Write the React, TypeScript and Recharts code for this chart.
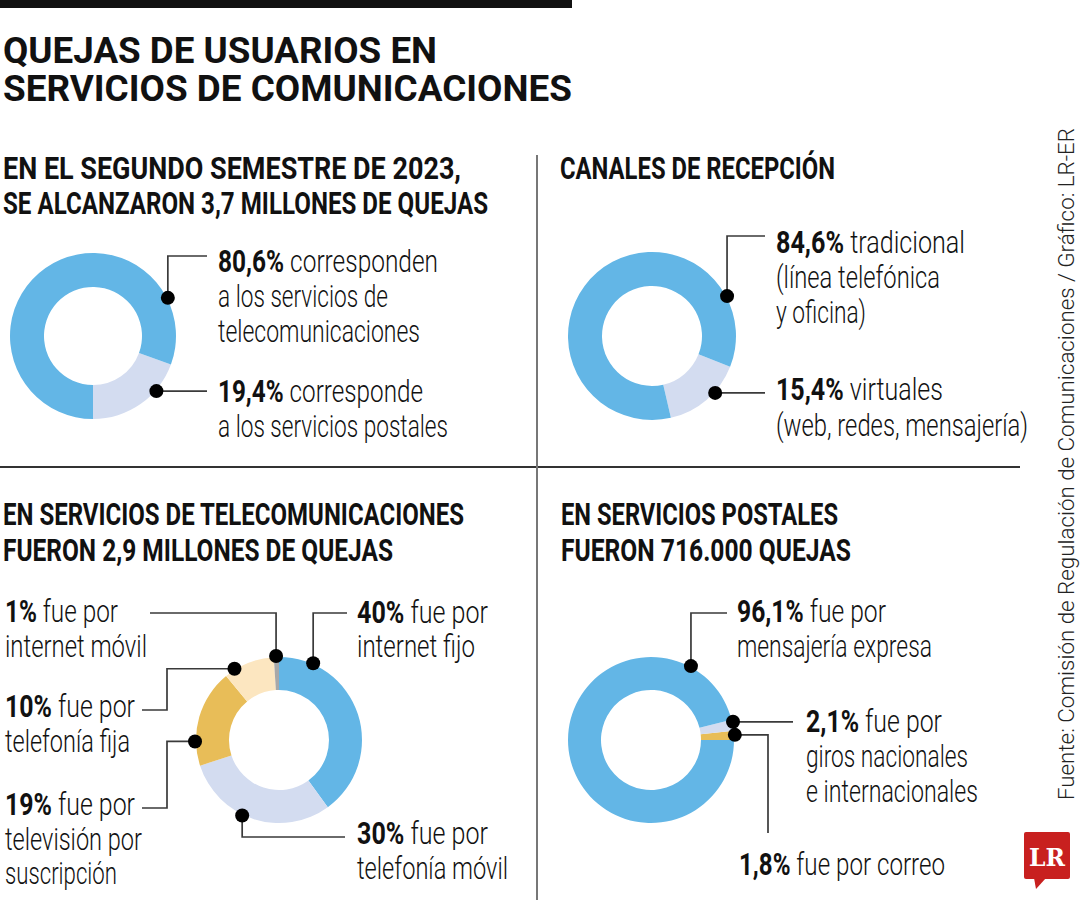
import { PieChart, Pie, Cell } from "recharts";

// ---- data ----
const totalNames = ["Servicios postales", "Telecomunicaciones"];
const totalValues = [19.4, 80.6];

const channelNames = ["Virtuales", "Tradicional"];
const channelValues = [15.4, 84.6];

const telecomNames = ["Internet fijo", "Telefonía móvil", "Televisión por suscripción", "Telefonía fija", "Internet móvil"];
const telecomValues = [40, 30, 19, 10, 1];

const postalNames = ["Correo", "Giros nacionales e internacionales", "Mensajería expresa"];
const postalValues = [1.8, 2.1, 96.1];

const BLUE = "#63b6e6";
const LAVENDER = "#d3dcf0";
const YELLOW = "#e8bd58";
const PALE = "#fce6c0";
const GREY = "#a8a8a8";
const LINE = "#3a3a3a";

const totalColors = [LAVENDER, BLUE];
const channelColors = [LAVENDER, BLUE];
const telecomColors = [BLUE, LAVENDER, YELLOW, PALE, GREY];
const postalColors = [YELLOW, LAVENDER, BLUE];

const toRows = (names: string[], values: number[]) =>
  names.map((name, i) => ({ name, value: values[i] }));

// ---- callouts: dot angle on the ring + elbow path (v = go to y, h = go to x) ----
type Note = { angle: number; path: [string, number][] };

const totalNotes: Note[] = [
  { angle: -41, path: [["h", 207]] },
  { angle: 27, path: [["v", 256], ["h", 207]] },
];
const channelNotes: Note[] = [
  { angle: -42, path: [["h", 765]] },
  { angle: 28, path: [["v", 236], ["h", 765]] },
];
const telecomNotes: Note[] = [
  { angle: 66, path: [["v", 613], ["h", 347]] },
  { angle: -116, path: [["v", 837], ["h", 345]] },
  { angle: 181, path: [["h", 167], ["v", 808], ["h", 142]] },
  { angle: 122, path: [["h", 167], ["v", 710], ["h", 142]] },
  { angle: 92, path: [["v", 613], ["h", 150]] },
];
const postalNotes: Note[] = [
  { angle: 3.5, path: [["h", 768], ["v", 833]] },
  { angle: 12.5, path: [["h", 793]] },
  { angle: 61.6, path: [["v", 613], ["h", 727]] },
];

const makeLabel = (notes: Note[]) => (props: any) => {
  const { cx, cy, outerRadius, index } = props;
  const note = notes[index];
  if (!note) return null;
  const rad = (note.angle * Math.PI) / 180;
  const r = outerRadius + 1;
  const x0 = cx + r * Math.cos(rad);
  const y0 = cy - r * Math.sin(rad);
  const pts: number[][] = [[x0, y0]];
  let x = x0;
  let y = y0;
  note.path.forEach(([dir, v]) => {
    if (dir === "v") y = v;
    else x = v;
    pts.push([x, y]);
  });
  return (
    <g key={`note-${index}`}>
      <polyline
        points={pts.map((p) => p.join(",")).join(" ")}
        fill="none"
        stroke={LINE}
        strokeWidth={1.7}
      />
      <circle cx={x0} cy={y0} r={7} fill="#000" />
    </g>
  );
};

// ---- text lines: [x, baseline, width, bold part, rest] ----
type Line = [number, number, number, string, string];

const bodyLines: Line[] = [
  [218, 272, 220, "80,6%", " corresponden"],
  [218, 307, 170, "", "a los servicios de"],
  [218, 342, 202, "", "telecomunicaciones"],
  [218, 402, 205, "19,4%", " corresponde"],
  [218, 437, 230, "", "a los servicios postales"],

  [776, 253, 189, "84,6%", " tradicional"],
  [776, 288, 164, "", "(línea telefónica"],
  [776, 323, 90, "", "y oficina)"],
  [776, 400, 167, "15,4%", " virtuales"],
  [776, 436, 252, "", "(web, redes, mensajería)"],

  [5, 622, 113, "1%", " fue por"],
  [5, 657, 142, "", "internet móvil"],
  [5, 717, 130, "10%", " fue por"],
  [5, 752, 125, "", "telefonía fija"],
  [5, 815, 130, "19%", " fue por"],
  [5, 850, 137, "", "televisión por"],
  [5, 884, 112, "", "suscripción"],

  [357, 623, 131, "40%", " fue por"],
  [357, 657, 118, "", "internet fijo"],
  [357, 844, 131, "30%", " fue por"],
  [357, 879, 151, "", "telefonía móvil"],

  [737, 622, 149, "96,1%", " fue por"],
  [737, 657, 195, "", "mensajería expresa"],
  [806, 732, 136, "2,1%", " fue por"],
  [806, 767, 162, "", "giros nacionales"],
  [806, 802, 172, "", "e internacionales"],
  [739, 875, 206, "1,8%", " fue por correo"],
];

const headLines: Line[] = [
  [3, 179, 458, "EN EL SEGUNDO SEMESTRE DE 2023,", ""],
  [3, 214, 485, "SE ALCANZARON 3,7 MILLONES DE QUEJAS", ""],
  [560, 179, 275, "CANALES DE RECEPCIÓN", ""],
  [3, 525, 461, "EN SERVICIOS DE TELECOMUNICACIONES", ""],
  [3, 561, 390, "FUERON 2,9 MILLONES DE QUEJAS", ""],
  [561, 525, 277, "EN SERVICIOS POSTALES", ""],
  [561, 561, 290, "FUERON 716.000 QUEJAS", ""],
];

const titleLines: Line[] = [
  [3, 63, 434, "QUEJAS DE USUARIOS EN", ""],
  [3, 101, 569, "SERVICIOS DE COMUNICACIONES", ""],
];

const SOURCE = "Fuente: Comisión de Regulación de Comunicaciones / Gráfico: LR-ER";

const FONT = "Roboto, 'Liberation Sans', sans-serif";

const TextLine = ({ line, size, weight }: { line: Line; size: number; weight: number }) => {
  const [x, y, w, bold, rest] = line;
  return (
    <text
      x={x}
      y={y}
      textLength={w}
      lengthAdjust="spacingAndGlyphs"
      fontSize={size}
      fontWeight={weight}
      fill="#111"
    >
      {bold && <tspan fontWeight={700}>{bold}</tspan>}
      {rest}
    </text>
  );
};

const ring = { innerRadius: 49, outerRadius: 83, stroke: "none", isAnimationActive: false, labelLine: false };

export default function App() {
  return (
    <div
      style={{
        position: "absolute",
        left: 0,
        top: 0,
        width: 1080,
        height: 900,
        background: "#fff",
        fontFamily: FONT,
      }}
    >
      <PieChart width={1080} height={900} margin={{ top: 0, right: 0, bottom: 0, left: 0 }}>
        <Pie
          {...ring}
          data={toRows(totalNames, totalValues)}
          dataKey="value"
          nameKey="name"
          cx={93}
          cy={336}
          startAngle={-90}
          endAngle={270}
          label={makeLabel(totalNotes)}
        >
          {totalColors.map((c, i) => (
            <Cell key={i} fill={c} />
          ))}
        </Pie>
        <Pie
          {...ring}
          innerRadius={50}
          outerRadius={84}
          data={toRows(channelNames, channelValues)}
          dataKey="value"
          nameKey="name"
          cx={652}
          cy={336}
          startAngle={-77}
          endAngle={283}
          label={makeLabel(channelNotes)}
        >
          {channelColors.map((c, i) => (
            <Cell key={i} fill={c} />
          ))}
        </Pie>
        <Pie
          {...ring}
          innerRadius={50}
          data={toRows(telecomNames, telecomValues)}
          dataKey="value"
          nameKey="name"
          cx={279}
          cy={740}
          startAngle={90}
          endAngle={-270}
          label={makeLabel(telecomNotes)}
        >
          {telecomColors.map((c, i) => (
            <Cell key={i} fill={c} />
          ))}
        </Pie>
        <Pie
          {...ring}
          innerRadius={50}
          data={toRows(postalNames, postalValues)}
          dataKey="value"
          nameKey="name"
          cx={651}
          cy={740}
          startAngle={0}
          endAngle={360}
          label={makeLabel(postalNotes)}
        >
          {postalColors.map((c, i) => (
            <Cell key={i} fill={c} />
          ))}
        </Pie>
      </PieChart>

      <svg
        width={1080}
        height={900}
        style={{ position: "absolute", left: 0, top: 0, pointerEvents: "none" }}
        fontFamily={FONT}
      >
        <rect x={0} y={0} width={572} height={8} fill="#111" />
        <line x1={0} y1={467} x2={1020} y2={467} stroke="#333" strokeWidth={2} />
        <line x1={537} y1={155} x2={537} y2={900} stroke="#777" strokeWidth={2} />

        {titleLines.map((l, i) => (
          <TextLine key={`t${i}`} line={l} size={37} weight={700} />
        ))}
        {headLines.map((l, i) => (
          <TextLine key={`h${i}`} line={l} size={32} weight={700} />
        ))}
        {bodyLines.map((l, i) => (
          <TextLine key={`b${i}`} line={l} size={31} weight={300} />
        ))}

        <text
          transform="translate(1074 800) rotate(-90)"
          textLength={672}
          lengthAdjust="spacingAndGlyphs"
          fontSize={22}
          fontWeight={300}
          fill="#222"
        >
          {SOURCE}
        </text>

        <g>
          <rect x={1024} y={832} width={46} height={47} rx={2} fill="#c8201f" />
          <polygon points="1034,878 1046,878 1036,889" fill="#c8201f" />
          <text
            x={1047}
            y={866}
            textAnchor="middle"
            fontFamily="'DejaVu Serif', 'Liberation Serif', serif"
            fontWeight={700}
            fontSize={24}
            fill="#fff"
            textLength={36}
            lengthAdjust="spacingAndGlyphs"
          >
            LR
          </text>
        </g>
      </svg>
    </div>
  );
}
